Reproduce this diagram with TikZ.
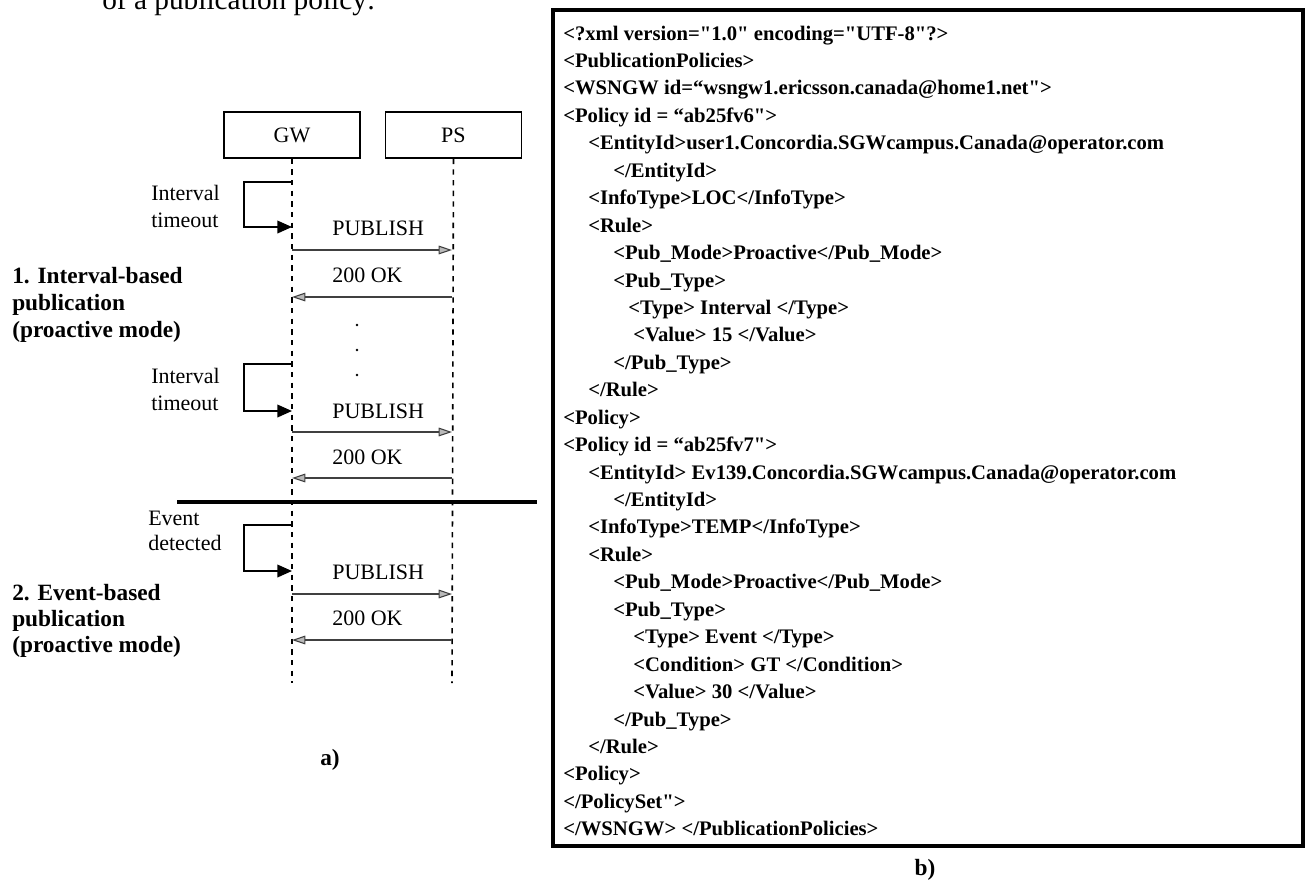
\documentclass[tikz,border=0pt]{standalone}
\usepackage{fontspec}
\setmainfont{Liberation Serif}[Ligatures=TeXOff]
\usetikzlibrary{arrows.meta,positioning}

\tikzset{
  actor/.style={draw=black, line width=1.1pt, minimum width=102pt, minimum height=34.5pt, font=\fontsize{16.5}{19}\selectfont},
  lifeline/.style={draw=black, line width=1.2pt, dash pattern=on 4pt off 4pt},
  msg/.style={draw=black!75, line width=0.8pt, -{Triangle[length=10pt, width=6.5pt, fill=gray!55]}},
  trigger/.style={draw=black, line width=1.2pt, -{Triangle[length=11pt, width=9.5pt]}},
  msglabel/.style={anchor=base west, inner sep=0pt, font=\fontsize{16.5}{19}\selectfont},
  phase/.style={anchor=base west, inner sep=0pt, font=\fontsize{17.5}{20}\selectfont\bfseries},
  xmlline/.style={anchor=base west, inner sep=0pt, font=\fontsize{15.5}{18}\selectfont\bfseries}
}

\begin{document}
\begin{tikzpicture}[x=0.75pt, y=-0.75pt]
        \useasboundingbox (0,0) rectangle (1306,886);
        \clip (0,0) rectangle (1306,886);

        % line of the page above, cut off
        \node[anchor=base west, inner sep=0pt, font=\fontsize{22}{26}\selectfont] (above) at (102,9) {of a publication policy:};

        % a) sequence of publications
	\node[actor] (gw) at (292,135) {GW};
	\node[actor, right=18pt of gw] (ps) {PS};

	\coordinate (gwend) at (292,683);
	\coordinate (psend) at (452,683);
	\draw[lifeline] (gw.south) -- (gwend);
	\draw[lifeline] (ps.south) -- (psend);

        % interval timeout 1
	\coordinate (t1a) at (292,182);
	\coordinate (t1b) at (292,227);
	\draw[trigger] (t1a) -- ++(-48,0) |- (t1b);
	\node[msglabel] (t1l1) at (151,200) {Interval};
	\node[msglabel] (t1l2) at (151,227) {timeout};

	\coordinate (p1g) at (292,250);
	\coordinate (p1p) at (452,250);
	\draw[msg] (p1g) -- (p1p);
	\node[msglabel] (pub1) at (332,235) {PUBLISH};

	\coordinate (o1p) at (452,297);
	\coordinate (o1g) at (292,297);
	\draw[msg] (o1p) -- (o1g);
	\node[msglabel] (ok1) at (332,282) {200 OK};

	\fill (357,325) circle (1.1pt);
	\fill (357,350) circle (1.1pt);
	\fill (357,375) circle (1.1pt);

        % interval timeout 2
	\coordinate (t2a) at (292,364);
	\coordinate (t2b) at (292,411);
	\draw[trigger] (t2a) -- ++(-48,0) |- (t2b);
	\node[msglabel] (t2l1) at (151,383) {Interval};
	\node[msglabel] (t2l2) at (151,410) {timeout};

	\coordinate (p2g) at (292,432);
	\coordinate (p2p) at (452,432);
	\draw[msg] (p2g) -- (p2p);
	\node[msglabel] (pub2) at (332,418) {PUBLISH};

	\coordinate (o2p) at (452,478);
	\coordinate (o2g) at (292,478);
	\draw[msg] (o2p) -- (o2g);
	\node[msglabel] (ok2) at (332,464) {200 OK};

	\node[phase] (ph1a) at (12,283) {1. Interval-based};
	\node[phase] (ph1b) at (12,310) {publication};
	\node[phase] (ph1c) at (12,337) {(proactive mode)};

	\draw[line width=2.4pt] (177,502) -- (537,502);

        % event detected
	\coordinate (t3a) at (292,525);
	\coordinate (t3b) at (292,571);
	\draw[trigger] (t3a) -- ++(-48,0) |- (t3b);
	\node[msglabel] (t3l1) at (148,525) {Event};
	\node[msglabel] (t3l2) at (148,550) {detected};

	\coordinate (p3g) at (292,594);
	\coordinate (p3p) at (452,594);
	\draw[msg] (p3g) -- (p3p);
	\node[msglabel] (pub3) at (332,579) {PUBLISH};

	\coordinate (o3p) at (452,640);
	\coordinate (o3g) at (292,640);
	\draw[msg] (o3p) -- (o3g);
	\node[msglabel] (ok3) at (332,625) {200 OK};

	\node[phase] (ph2a) at (12,600) {2. Event-based};
	\node[phase] (ph2b) at (12,626) {publication};
	\node[phase] (ph2c) at (12,652) {(proactive mode)};

	\node[phase, anchor=base] (capa) at (330,765) {a)};

        % b) publication policy document
	\draw[line width=2.4pt] (553,10) rectangle (1303,846);

	\node[xmlline] (x01) at (563,40.0) {<?xml version="1.0" encoding="UTF-8"?>};
	\node[xmlline] (x02) at (563,67.4) {<PublicationPolicies>};
	\node[xmlline] (x03) at (563,94.9) {<WSNGW id=“wsngw1.ericsson.canada@home1.net">};
	\node[xmlline] (x04) at (563,122.3) {<Policy id = “ab25fv6">};
	\node[xmlline] (x05) at (588,149.8) {<EntityId>user1.Concordia.SGWcampus.Canada@operator.com};
	\node[xmlline] (x06) at (613,177.2) {</EntityId>};
	\node[xmlline] (x07) at (588,204.6) {<InfoType>LOC</InfoType>};
	\node[xmlline] (x08) at (588,232.1) {<Rule>};
	\node[xmlline] (x09) at (613,259.5) {<Pub\_Mode>Proactive</Pub\_Mode>};
	\node[xmlline] (x10) at (613,287.0) {<Pub\_Type>};
	\node[xmlline] (x11) at (628,314.4) {<Type> Interval </Type>};
	\node[xmlline] (x12) at (633,341.8) {<Value> 15 </Value>};
	\node[xmlline] (x13) at (613,369.3) {</Pub\_Type>};
	\node[xmlline] (x14) at (588,396.7) {</Rule>};
	\node[xmlline] (x15) at (563,424.2) {<Policy>};
	\node[xmlline] (x16) at (563,451.6) {<Policy id = “ab25fv7">};
	\node[xmlline] (x17) at (588,479.0) {<EntityId> Ev139.Concordia.SGWcampus.Canada@operator.com};
	\node[xmlline] (x18) at (613,506.5) {</EntityId>};
	\node[xmlline] (x19) at (588,533.9) {<InfoType>TEMP</InfoType>};
	\node[xmlline] (x20) at (588,561.4) {<Rule>};
	\node[xmlline] (x21) at (613,588.8) {<Pub\_Mode>Proactive</Pub\_Mode>};
	\node[xmlline] (x22) at (613,616.2) {<Pub\_Type>};
	\node[xmlline] (x23) at (633,643.7) {<Type> Event </Type>};
	\node[xmlline] (x24) at (633,671.1) {<Condition> GT </Condition>};
	\node[xmlline] (x25) at (633,698.6) {<Value> 30 </Value>};
	\node[xmlline] (x26) at (613,726.0) {</Pub\_Type>};
	\node[xmlline] (x27) at (588,753.4) {</Rule>};
	\node[xmlline] (x28) at (563,780.9) {<Policy>};
	\node[xmlline] (x29) at (563,808.3) {</PolicySet">};
	\node[xmlline] (x30) at (563,835.8) {</WSNGW> </PublicationPolicies>};

	\node[phase, anchor=base] (capb) at (925,875) {b)};

\end{tikzpicture}
\end{document}
